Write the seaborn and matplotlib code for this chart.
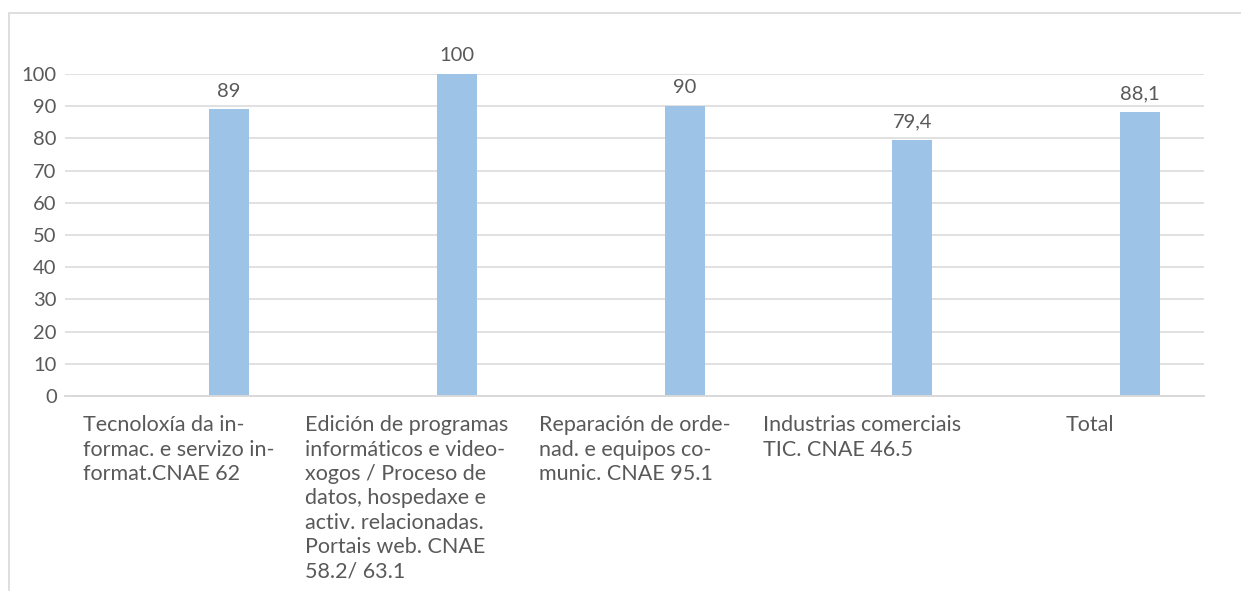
import matplotlib as mpl
import matplotlib.pyplot as plt
from matplotlib.lines import Line2D
import numpy as np
import pandas as pd
import seaborn as sns

# Datos do gráfico
categories = [
    'Tecnoloxía da in-\nformac. e servizo in-\nformat.CNAE 62',
    'Edición de programas\ninformáticos e video-\nxogos / Proceso de\n'
    'datos, hospedaxe e\nactiv. relacionadas.\nPortais web. CNAE\n58.2/ 63.1',
    'Reparación de orde-\nnad. e equipos co-\nmunic. CNAE 95.1',
    'Industrias comerciais\nTIC. CNAE 46.5',
    'Total',
]
values = [89, 100, 90, 79.4, 88.1]
y_ticks = list(range(0, 101, 10))

# Excel-style layout: an empty first series pushes the bar to the right of its slot
series_order = ['baleira', 'valor']

text_color = '#595959'
grid_color = '#D9D9D9'
bar_color = '#9DC3E6'

sns.set_theme(style='white')
plt.rcParams['font.family'] = ['Lato', 'DejaVu Sans']

df = pd.DataFrame({
    'categoria': categories * 2,
    'serie': ['baleira'] * len(categories) + ['valor'] * len(categories),
    'valor': [np.nan] * len(categories) + values,
})

fig = plt.figure(figsize=(12.41, 5.91), dpi=100)
ax = fig.add_axes([65 / 1241, 1 - 396 / 591, (1204 - 65) / 1241, (396 - 74) / 591])

sns.barplot(
    data=df, x='categoria', y='valor', hue='serie', hue_order=series_order,
    order=categories, palette=[bar_color, bar_color], width=0.878, gap=0.6,
    errorbar=None, legend=False, saturation=1, ax=ax, linewidth=0,
)

# Etiquetas de valor
for i, v in enumerate(values):
    ax.annotate(f'{v:g}'.replace('.', ','), xy=(i + 0.2195, v), xytext=(0, 7),
                textcoords='offset points', ha='center', va='bottom',
                fontsize=14.5, color=text_color)

ax.set_ylim(0, 100)
ax.set_xlim(-0.5, len(categories) - 0.5)
ax.set_yticks(y_ticks)
ax.yaxis.grid(True, color=grid_color, linewidth=1.1)
ax.set_axisbelow(True)
for side in ['top', 'right', 'left']:
    ax.spines[side].set_visible(False)
ax.spines['bottom'].set_color(grid_color)
ax.spines['bottom'].set_linewidth(1.4)
ax.set_xlabel('')
ax.set_ylabel('')
ax.tick_params(axis='y', length=0, pad=6, labelsize=14.5, labelcolor=text_color)
ax.tick_params(axis='x', length=0, pad=14, labelsize=15.5, labelcolor=text_color)
for lab in ax.get_xticklabels():
    lab.set_verticalalignment('top')
    lab.set_multialignment('left')
    lab.set_linespacing(1.27)

# Borde do gráfico
fig.add_artist(Line2D([9 / 1241, 9 / 1241], [0, 1 - 13 / 591],
                      transform=fig.transFigure, color=grid_color, linewidth=1.2))
fig.add_artist(Line2D([9 / 1241, 1], [1 - 13 / 591, 1 - 13 / 591],
                      transform=fig.transFigure, color=grid_color, linewidth=1.2))

fig.savefig('out.png', dpi=100)
